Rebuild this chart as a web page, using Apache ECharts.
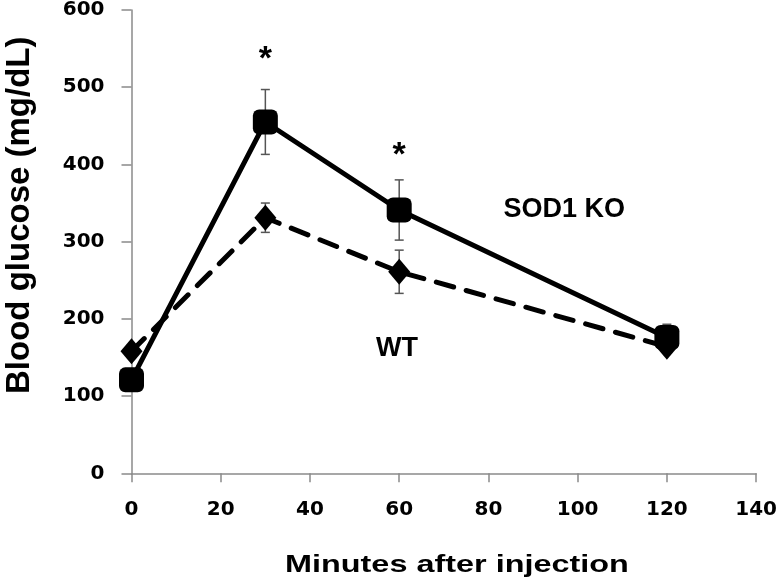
<!DOCTYPE html>
<html>
<head>
<meta charset="utf-8">
<script src="https://cdn.jsdelivr.net/npm/echarts@6/dist/echarts.min.js"></script>
<style>
html,body{margin:0;padding:0;background:#fff;}
#chart{width:780px;height:588px;}
</style>
</head>
<body>
<div id="chart"></div>
<script>
// ---- data ----
var minutes = [0, 30, 60, 120];
var koMean = [121, 455, 341, 176];
var koErr  = [8, 42, 39, 17];
var wtMean = [158, 331, 261, 164];
var wtErr  = [8, 19, 28, 8];
var xTicks = [0, 20, 40, 60, 80, 100, 120, 140];
var yTicks = [0, 100, 200, 300, 400, 500, 600];
var annotations = [
  {text: '*', x: 30, y: 536},
  {text: '*', x: 60, y: 411},
  {text: 'SOD1 KO', x: 97, y: 342},
  {text: 'WT', x: 59.5, y: 162}
];
var xTitle = 'Minutes after injection';
var yTitle = 'Blood glucose (mg/dL)';

function errData(mean, err) {
  return minutes.map(function (m, i) { return [m, mean[i] - err[i], mean[i] + err[i]]; });
}
function pairs(mean) {
  return minutes.map(function (m, i) { return [m, mean[i]]; });
}
function errRender(params, api) {
  var x = api.value(0);
  var lo = api.coord([x, api.value(1)]);
  var hi = api.coord([x, api.value(2)]);
  var cap = 4.5;
  var st = {stroke: '#555', lineWidth: 1.5};
  return {
    type: 'group',
    children: [
      {type: 'line', shape: {x1: lo[0], y1: lo[1], x2: hi[0], y2: hi[1]}, style: st},
      {type: 'line', shape: {x1: lo[0] - cap, y1: lo[1], x2: lo[0] + cap, y2: lo[1]}, style: st},
      {type: 'line', shape: {x1: hi[0] - cap, y1: hi[1], x2: hi[0] + cap, y2: hi[1]}, style: st}
    ]
  };
}

var chart = echarts.init(document.getElementById('chart'), null, {renderer: 'canvas'});
var tickFont = {fontFamily: 'DejaVu Sans', fontWeight: 'bold', fontSize: 20, color: '#000'};
var axisGray = '#8a8a8a';

chart.setOption({
  animation: false,
  backgroundColor: '#fff',
  grid: {left: 131.5, right: 23, top: 10, bottom: 114.7, containLabel: false},
  xAxis: {
    type: 'value', min: xTicks[0], max: xTicks[xTicks.length - 1], interval: 20,
    axisLine: {show: true, onZero: false, lineStyle: {color: axisGray, width: 1.5}},
    axisTick: {show: true, inside: false, length: 9, lineStyle: {color: axisGray, width: 1.5}},
    axisLabel: Object.assign({margin: 26}, tickFont),
    splitLine: {show: false}
  },
  yAxis: {
    type: 'value', min: yTicks[0], max: yTicks[yTicks.length - 1], interval: 100,
    axisLine: {show: true, onZero: false, lineStyle: {color: axisGray, width: 1.5}},
    axisTick: {show: true, inside: false, length: 10, lineStyle: {color: axisGray, width: 1.5}},
    axisLabel: Object.assign({margin: 27}, tickFont),
    splitLine: {show: false}
  },
  graphic: [
    {type: 'text', x: 285, y: 553,
     style: {text: xTitle, font: 'bold 24px "Liberation Sans", Arial, sans-serif', fill: '#000'},
     scaleX: 1.35, originX: 0, originY: 0, silent: true},
    {type: 'text', x: 3, y: 394, rotation: Math.PI / 2,
     style: {text: yTitle, font: 'bold 33px "Liberation Sans", Arial, sans-serif', fill: '#000',
             textVerticalAlign: 'top'},
     silent: true}
  ],
  series: [
    {type: 'custom', name: 'WT err', renderItem: errRender, data: errData(wtMean, wtErr), z: 1, silent: true},
    {type: 'custom', name: 'KO err', renderItem: errRender, data: errData(koMean, koErr), z: 1, silent: true},
    {type: 'line', name: 'WT', data: pairs(wtMean), z: 2,
     symbol: 'diamond', symbolSize: [22, 26], showAllSymbol: true,
     itemStyle: {color: '#000'},
     lineStyle: {color: '#000', width: 5, type: [18, 13], cap: 'round'}},
    {type: 'line', name: 'SOD1 KO', data: pairs(koMean), z: 3,
     symbol: 'roundRect', symbolSize: 25, showAllSymbol: true,
     itemStyle: {color: '#000'},
     lineStyle: {color: '#000', width: 5}},
    {type: 'scatter', name: 'annotations', symbolSize: 0, silent: true, z: 4,
     itemStyle: {opacity: 1, color: '#000'},
     data: annotations.map(function (a) {
       return {value: [a.x, a.y], name: a.text,
               label: {fontSize: a.text === '*' ? 34 : 27}};
     }),
     label: {show: true, position: 'inside', formatter: function (p) { return p.name; },
             fontFamily: 'Liberation Sans', fontWeight: 'bold', fontSize: 27,
             color: '#000', opacity: 1, textBorderWidth: 0}}
  ]
});
</script>
</body>
</html>
